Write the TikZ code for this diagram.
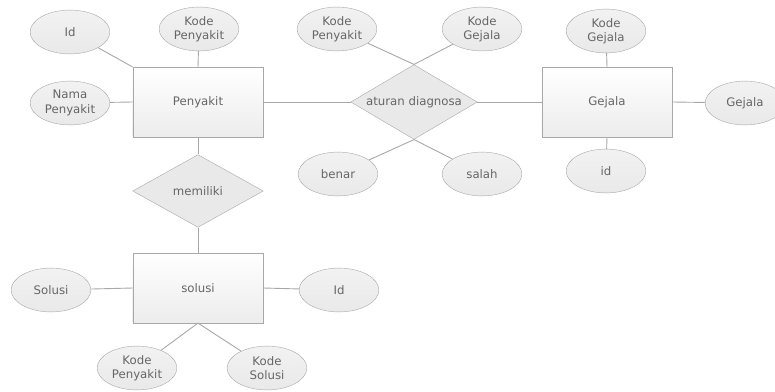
\documentclass[tikz,border=0pt]{standalone}
\usepackage{fontspec}
\setmainfont{DejaVu Sans}
\usepackage{xcolor}
\usepackage{tikz}
\usetikzlibrary{shapes,shapes.geometric,positioning,calc}

\definecolor{edgegray}{HTML}{A8A8A8}
\definecolor{fillgray}{HTML}{E9E9E9}
\definecolor{textgray}{HTML}{666666}

\tikzset{
    entity/.style={rectangle, draw=edgegray, top color=white, bottom color=fillgray!85, minimum width=131, minimum height=70, inner sep=0},
    attr/.style={ellipse, draw=edgegray, top color=fillgray!60, bottom color=fillgray, minimum width=80, minimum height=44, inner sep=0, align=center},
    rel/.style={diamond, draw=edgegray, fill=fillgray, inner sep=0, aspect=1.7},
    link/.style={draw=edgegray, line width=0.9}
}

\begin{document}
\begin{tikzpicture}[x=1bp, y=-1bp, font=\fontsize{11.8}{14.5}\selectfont, text=textgray]
        \useasboundingbox (0,0) rectangle (775,391);

        % entitas Penyakit
        \node [entity] (penyakit) at (198,102) {Penyakit};
        \node [attr] (idP) at (70,32) {Id};
        \node [attr] (kodeP) at (199,29) {Kode\\Penyakit};
        \node [attr] (namaP) at (70,103) {Nama\\Penyakit};
        \draw [link] (idP) -- (penyakit.north west);
        \draw [link] (kodeP) -- (penyakit.north);
        \draw [link] (namaP) -- (penyakit.west);

        % relasi aturan diagnosa
        \node [rel, minimum width=127, minimum height=75] (aturan) at (414,102) {aturan diagnosa};
        \node [attr] (kodePA) at (337,29) {Kode\\Penyakit};
        \node [attr] (kodeGA) at (482,29) {Kode\\Gejala};
        \node [attr] (benar) at (338,174) {benar};
        \node [attr] (salah) at (482,174) {salah};
        \draw [link] (penyakit.east) -- (aturan.west);
        \draw [link] (kodePA) -- (aturan.north);
        \draw [link] (kodeGA) -- (aturan.north);
        \draw [link] (benar) -- (aturan.south);
        \draw [link] (salah) -- (aturan.south);

        % entitas Gejala
        \node [entity] (gejala) at (607,102) {Gejala};
        \node [attr] (kodeG) at (606,31) {Kode\\Gejala};
        \node [attr] (namaG) at (745,103) {Gejala};
        \node [attr] (idG) at (606,171) {id};
        \draw [link] (aturan.east) -- (gejala.west);
        \draw [link] (kodeG) -- (gejala.north);
        \draw [link] (gejala.east) -- (namaG);
        \draw [link] (gejala.south) -- (idG);

        % relasi memiliki
        \node [rel, minimum width=131, minimum height=73] (memiliki) at (198,191) {memiliki};
        \draw [link] (penyakit.south) -- (memiliki.north);

        % entitas solusi
        \node [entity] (solusi) at (198,288) {solusi};
        \node [attr] (solusiA) at (51,290) {Solusi};
        \node [attr] (idS) at (339,290) {Id};
        \node [attr] (kodePS) at (137,368) {Kode\\Penyakit};
        \node [attr] (kodeS) at (267,368) {Kode\\Solusi};
        \draw [link] (memiliki.south) -- (solusi.north);
        \draw [link] (solusiA) -- (solusi.west);
        \draw [link] (solusi.east) -- (idS);
        \draw [link] (kodePS) -- (solusi.south);
        \draw [link] (kodeS) -- (solusi.south);
    \end{tikzpicture}
\end{document}
